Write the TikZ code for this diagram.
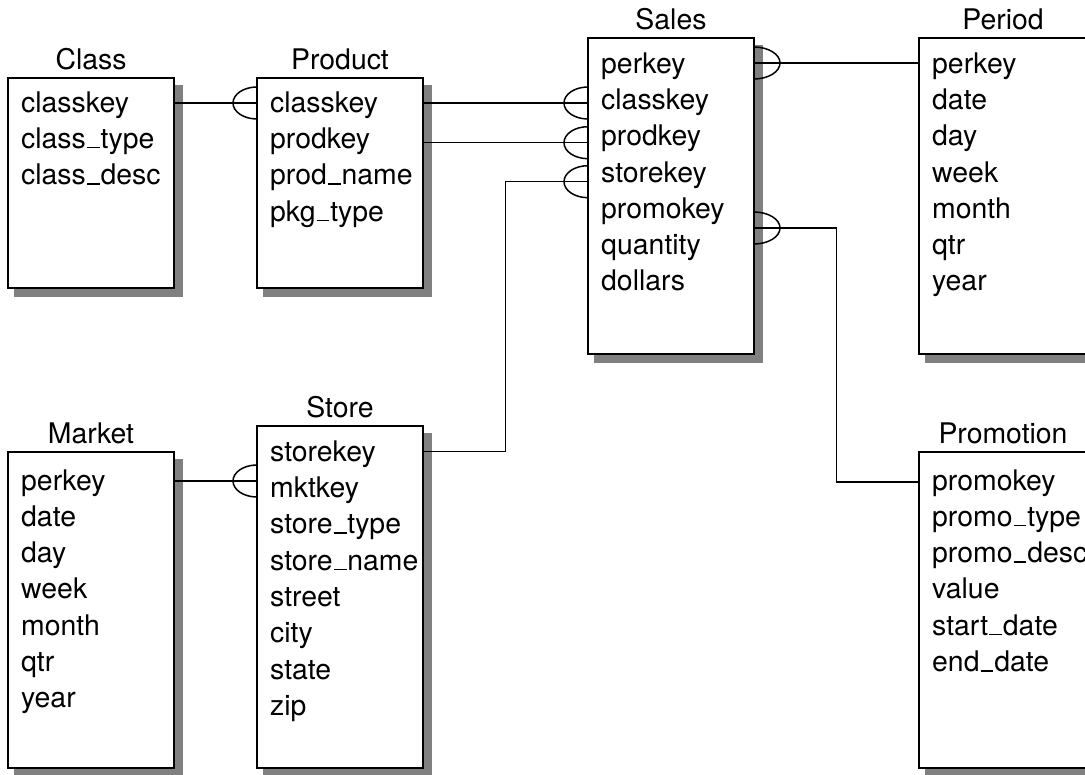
\documentclass[tikz,border=0pt]{standalone}
\usepackage{fontspec}
\setmainfont{TeX Gyre Heros}
\usetikzlibrary{calc}

% underscore drawn as a short baseline rule
\newcommand\us{\leavevmode\kern.04em\vbox{\hrule height 1.4pt width .45em}\kern.03em}

\definecolor{shadowgray}{gray}{0.5}

\tikzset{
  tbl/.style={draw=black, line width=1.8pt, fill=white, anchor=north west,
              inner sep=0pt, outer sep=0pt},
  ttl/.style={anchor=base, inner sep=0pt, font=\fontsize{28.4pt}{34pt}\selectfont},
  fld/.style={anchor=west, inner sep=0pt, text height=20pt, text depth=0pt,
              font=\fontsize{28.4pt}{34pt}\selectfont},
  link/.style={line width=1.5pt},
  footL/.pic={\draw[link] (0pt,16pt) arc[start angle=90, end angle=270, x radius=24pt, y radius=16pt];},
  footR/.pic={\draw[link] (0pt,16pt) arc[start angle=90, end angle=-90, x radius=26pt, y radius=16pt];},
}

% table frame with drop shadow and title: name, x, top, width, height, title
\newcommand\dbtable[6]{%
  \fill[shadowgray] ({#2+6},{#3+7}) rectangle ({#2+#4+9},{#3+#5+9});
  \node[tbl, minimum width=#4pt, minimum height=#5pt] (#1) at (#2,#3) {};
  \node[ttl] (#1-title) at ([yshift=8pt]#1.north) {#6};
}

\begin{document}
\begin{tikzpicture}[x=1pt, y=-1pt]
\useasboundingbox (0,0) rectangle (1085,775);
\clip (0,0) rectangle (1085,775);
\fill[white] (0,0) rectangle (1085,775);

% tables
\dbtable{class}{8}{77.7}{166}{210.3}{Class}
\dbtable{product}{257}{77.7}{166}{210.3}{Product}
\dbtable{sales}{588}{37.7}{166}{316.3}{Sales}
\dbtable{period}{919}{37.7}{168}{316.3}{Period}
\dbtable{market}{8}{452}{166}{316}{Market}
\dbtable{store}{257}{425.7}{166}{342.3}{Store}
\dbtable{promotion}{919}{452}{168}{316}{Promotion}

% fields
\foreach \t [count=\i from 0] in {classkey, class\us type, class\us desc}
  \node[fld] (class-f\i) at (21, {77.7+24.5+36.3*\i}) {\t};
\foreach \t [count=\i from 0] in {classkey, prodkey, prod\us name, pkg\us type}
  \node[fld] (product-f\i) at (270, {77.7+24.5+36.3*\i}) {\t};
\foreach \t [count=\i from 0] in {perkey, classkey, prodkey, storekey, promokey, quantity, dollars}
  \node[fld] (sales-f\i) at (601, {37.7+25.5+36.3*\i}) {\t};
\foreach \t [count=\i from 0] in {perkey, date, day, week, month, qtr, year}
  \node[fld] (period-f\i) at (932, {37.7+25.5+36.3*\i}) {\t};
\foreach \t [count=\i from 0] in {perkey, date, day, week, month, qtr, year}
  \node[fld] (market-f\i) at (21, {452+28+36.3*\i}) {\t};
\foreach \t [count=\i from 0] in {storekey, mktkey, store\us type, store\us name, street, city, state, zip}
  \node[fld] (store-f\i) at (270, {425.7+25.5+36.3*\i}) {\t};
\foreach \t [count=\i from 0] in {promokey, promo\us type, promo\us desc, value, start\us date, end\us date}
  \node[fld] (promotion-f\i) at (932, {452+28+36.3*\i}) {\t};

% connector ports on the table edges
\coordinate (class-e)   at ($(class.north east)+(0,25.3)$);
\coordinate (product-w) at ($(product.north west)+(0,25.3)$);
\coordinate (product-e1) at ($(product.north east)+(0,25.3)$);
\coordinate (product-e2) at ($(product.north east)+(0,65)$);
\coordinate (sales-w1) at ($(sales.north west)+(0,65.3)$);
\coordinate (sales-w2) at ($(sales.north west)+(0,105)$);
\coordinate (sales-w3) at ($(sales.north west)+(0,144)$);
\coordinate (sales-e1) at ($(sales.north east)+(0,25.3)$);
\coordinate (sales-e2) at ($(sales.north east)+(0,190.3)$);
\coordinate (period-w) at ($(period.north west)+(0,25.3)$);
\coordinate (store-e)  at ($(store.north east)+(0,26)$);
\coordinate (store-w)  at ($(store.north west)+(0,55.3)$);
\coordinate (market-e) at ($(market.north east)+(0,29)$);
\coordinate (promotion-w) at ($(promotion.north west)+(0,30)$);
\coordinate (store-bend) at (505.7,0);
\coordinate (promo-bend) at (836.7,0);

% connectors
\draw[link] (class-e) -- (product-w);
\draw[link] (product-e1) -- (sales-w1);
\draw[link] (product-e2) -- (sales-w2);
\draw[link] (store-e) -- (store-e -| store-bend) -- (store-bend |- sales-w3) -- (sales-w3);
\draw[link] (sales-e1) -- (period-w);
\draw[link] (sales-e2) -- (sales-e2 -| promo-bend) -- (promo-bend |- promotion-w) -- (promotion-w);
\draw[link] (market-e) -- (store-w);

% many-side markers
\pic at (product-w) {footL};
\pic at (sales-w1) {footL};
\pic at (sales-w2) {footL};
\pic at (sales-w3) {footL};
\pic at (store-w) {footL};
\pic at (sales-e1) {footR};
\pic at (sales-e2) {footR};
\end{tikzpicture}
\end{document}
